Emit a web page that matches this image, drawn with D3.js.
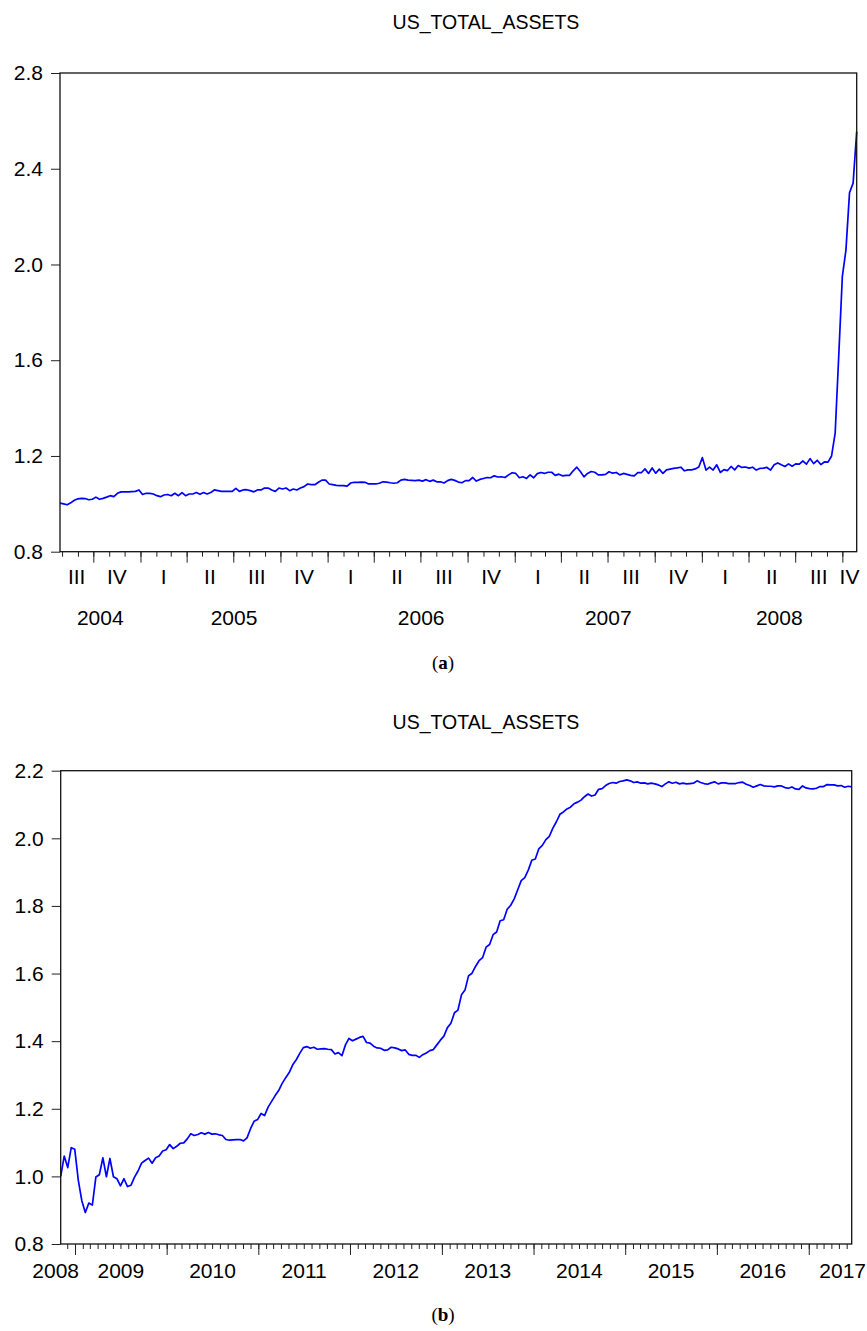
<!DOCTYPE html>
<html>
<head>
<meta charset="utf-8">
<script src="https://cdn.jsdelivr.net/npm/d3@7"></script>
<style>
body { margin: 0; background: #fff; }
svg text { font-family: "Liberation Sans", Arial, sans-serif; fill: #000; }
.caption { font-family: "Liberation Serif", "Times New Roman", serif; }
</style>
</head>
<body>
<svg id="fig" width="867" height="1331"></svg>
<script>
var seriesName = "US_TOTAL_ASSETS";
var quarterNames = ["I", "II", "III", "IV"];

// panel (a): weekly values starting 2004-07-28
var startA = "2004-07-28";
var stepA = 7;
var assetsA = [
  1.003,1.000,0.996,1.004,1.015,1.021,1.023,1.022,1.017,1.019,
  1.028,1.019,1.023,1.028,1.034,1.030,1.044,1.050,1.050,1.050,
  1.051,1.052,1.058,1.039,1.044,1.044,1.041,1.034,1.030,1.037,
  1.039,1.034,1.044,1.034,1.047,1.034,1.041,1.041,1.047,1.040,
  1.047,1.041,1.047,1.058,1.055,1.052,1.052,1.052,1.052,1.065,
  1.052,1.058,1.059,1.055,1.050,1.058,1.058,1.066,1.066,1.058,
  1.052,1.066,1.062,1.066,1.055,1.062,1.058,1.066,1.072,1.083,
  1.080,1.080,1.090,1.099,1.099,1.083,1.080,1.077,1.076,1.076,
  1.074,1.087,1.090,1.090,1.091,1.090,1.083,1.083,1.083,1.086,
  1.092,1.091,1.088,1.086,1.088,1.099,1.102,1.099,1.098,1.097,
  1.099,1.095,1.101,1.094,1.099,1.092,1.092,1.087,1.097,1.102,
  1.098,1.091,1.088,1.097,1.097,1.110,1.095,1.102,1.106,1.110,
  1.109,1.117,1.112,1.113,1.110,1.121,1.130,1.127,1.109,1.113,
  1.106,1.121,1.109,1.126,1.131,1.127,1.132,1.132,1.119,1.124,
  1.117,1.119,1.119,1.138,1.153,1.135,1.113,1.127,1.135,1.132,
  1.121,1.121,1.123,1.134,1.128,1.131,1.121,1.127,1.123,1.119,
  1.117,1.130,1.130,1.146,1.127,1.150,1.128,1.145,1.127,1.142,
  1.145,1.148,1.150,1.153,1.138,1.142,1.142,1.146,1.154,1.193,
  1.141,1.153,1.141,1.163,1.131,1.143,1.139,1.156,1.142,1.160,
  1.152,1.154,1.149,1.153,1.141,1.148,1.149,1.152,1.141,1.163,
  1.171,1.163,1.156,1.167,1.157,1.167,1.166,1.179,1.166,1.189,
  1.168,1.182,1.164,1.175,1.174,1.200,1.295,1.620,1.950,2.060,
  2.300,2.340,2.555
];
var ticksA = [0.8, 1.2, 1.6, 2.0, 2.4, 2.8];

// panel (b): every second week starting 2008-11-05
var startB = "2008-11-05";
var stepB = 14;
var assetsB = [
  1.000,1.060,1.026,1.085,1.080,0.989,0.928,0.893,0.921,0.915,
  0.998,1.005,1.055,0.999,1.053,0.999,0.993,0.972,0.993,0.970,
  0.974,0.998,1.016,1.039,1.047,1.054,1.039,1.055,1.060,1.075,
  1.079,1.094,1.082,1.089,1.098,1.099,1.111,1.126,1.121,1.124,
  1.129,1.125,1.130,1.125,1.126,1.123,1.121,1.109,1.107,1.108,
  1.109,1.109,1.105,1.114,1.141,1.163,1.168,1.186,1.180,1.205,
  1.222,1.239,1.254,1.275,1.292,1.307,1.330,1.345,1.364,1.381,
  1.384,1.379,1.382,1.376,1.377,1.378,1.376,1.375,1.362,1.366,
  1.357,1.389,1.408,1.401,1.406,1.411,1.414,1.396,1.394,1.385,
  1.380,1.379,1.373,1.374,1.382,1.380,1.377,1.372,1.374,1.361,
  1.358,1.358,1.352,1.360,1.365,1.372,1.375,1.389,1.403,1.415,
  1.440,1.453,1.484,1.492,1.537,1.551,1.593,1.601,1.621,1.638,
  1.647,1.678,1.686,1.715,1.723,1.756,1.759,1.790,1.802,1.821,
  1.848,1.875,1.884,1.906,1.935,1.939,1.969,1.979,1.996,2.006,
  2.030,2.049,2.071,2.078,2.087,2.092,2.102,2.107,2.113,2.123,
  2.131,2.125,2.128,2.145,2.147,2.156,2.162,2.165,2.163,2.168,
  2.170,2.173,2.170,2.165,2.167,2.163,2.164,2.161,2.163,2.161,
  2.158,2.153,2.161,2.167,2.163,2.166,2.161,2.163,2.161,2.162,
  2.163,2.170,2.165,2.162,2.160,2.164,2.167,2.161,2.164,2.164,
  2.162,2.162,2.162,2.165,2.166,2.160,2.156,2.151,2.155,2.159,
  2.155,2.154,2.154,2.152,2.155,2.155,2.150,2.148,2.152,2.146,
  2.145,2.155,2.149,2.147,2.146,2.148,2.153,2.153,2.159,2.158,
  2.158,2.155,2.156,2.151,2.154,2.152
];
var ticksB = [0.8, 1.0, 1.2, 1.4, 1.6, 1.8, 2.0, 2.2];

var W = 867;
var svg = d3.select("#fig");
var parseDay = d3.utcParse("%Y-%m-%d");

function toSeries(start, step, values) {
  var t0 = parseDay(start);
  return values.map(function(v, i) {
    return {date: d3.utcDay.offset(t0, i * step), value: v};
  });
}

function clip(d, lo, hi) { return d < lo ? lo : (d > hi ? hi : d); }

function drawPanel(p) {
  var data = toSeries(p.start, p.step, p.values);
  var x = d3.scaleUtc().domain(d3.extent(data, function(d) { return d.date; })).range([p.left, p.right]);
  var y = d3.scaleLinear().domain(d3.extent(p.ticks)).range([p.bottom, p.top]);
  var d0 = x.domain()[0], d1 = x.domain()[1];
  var g = svg.append("g");

  // title (sits a little right of the frame centre in the original)
  g.append("text")
    .attr("x", 486)
    .attr("y", p.titleY)
    .attr("text-anchor", "middle")
    .style("font-size", "19.5px")
    .text(seriesName);

  // y axis
  var yaxis = g.append("g")
    .attr("transform", "translate(" + p.left + ",0)")
    .call(d3.axisLeft(y).tickValues(p.ticks).tickFormat(d3.format(".1f")).tickSize(9).tickPadding(8));
  yaxis.attr("font-family", null).attr("font-size", null);
  yaxis.select(".domain").remove();
  yaxis.selectAll("text").style("font-size", "21px");
  yaxis.selectAll("line").attr("stroke", "#222");

  // x axis: monthly minor ticks, long ticks at quarter or year starts
  var months = d3.utcMonth.range(d0, d3.utcDay.offset(d1, 1));
  var majors = p.quarterly
    ? d3.utcMonth.every(3).range(d0, d3.utcDay.offset(d1, 1))
    : d3.utcYear.range(d0, d3.utcDay.offset(d1, 1));
  var minorAxis = g.append("g")
    .attr("transform", "translate(0," + p.bottom + ")")
    .call(d3.axisBottom(x).tickValues(months).tickSize(5).tickFormat(""));
  var majorAxis = g.append("g")
    .attr("transform", "translate(0," + p.bottom + ")")
    .call(d3.axisBottom(x).tickValues(majors).tickSize(11).tickFormat(""));
  minorAxis.select(".domain").remove();
  majorAxis.select(".domain").remove();
  g.selectAll(".tick line").attr("stroke", "#222");

  // line
  var valueLine = d3.line()
    .x(function(d) { return x(d.date); })
    .y(function(d) { return y(d.value); });
  g.append("path")
    .attr("d", valueLine(data))
    .attr("fill", "none")
    .attr("stroke", "#0000ff")
    .attr("stroke-width", 1.7)
    .attr("stroke-linejoin", "round");

  // frame
  g.append("rect")
    .attr("x", p.left)
    .attr("y", p.top)
    .attr("width", p.right - p.left)
    .attr("height", p.bottom - p.top)
    .attr("fill", "none")
    .attr("stroke", "#111")
    .attr("stroke-width", 1.3);

  var labels = g.append("g").style("font-size", "21px").attr("text-anchor", "middle");

  if (p.quarterly) {
    // roman quarter labels centred on the visible part of each quarter
    d3.utcMonth.every(3).range(d3.utcMonth.every(3).floor(d0), d1).forEach(function(q) {
      var lo = q < d0 ? d0 : q;
      var hi = d3.utcMonth.offset(q, 3);
      if (hi > d1) hi = d1;
      var t = labels.append("text")
        .attr("y", p.bottom + 32)
        .text(quarterNames[q.getUTCMonth() / 3]);
      var half = t.node().getComputedTextLength() / 2;
      t.attr("x", clip((x(lo) + x(hi)) / 2, p.left + half, W - half - 4));
    });
    d3.utcYear.range(d3.utcYear.floor(d0), d1).forEach(function(yr) {
      var lo = yr < d0 ? d0 : yr;
      var hi = d3.utcYear.offset(yr, 1);
      if (hi > d1) hi = d1;
      labels.append("text")
        .attr("x", (x(lo) + x(hi)) / 2)
        .attr("y", p.bottom + 73)
        .text(yr.getUTCFullYear());
    });
  } else {
    d3.utcYear.range(d3.utcYear.floor(d0), d1).forEach(function(yr) {
      var mid = (x(yr) + x(d3.utcYear.offset(yr, 1))) / 2;
      var t = labels.append("text")
        .attr("y", p.bottom + 34)
        .text(yr.getUTCFullYear());
      var half = t.node().getComputedTextLength() / 2;
      t.attr("x", clip(mid, p.left - 5, W - half - 1));
    });
  }

  // caption "(a)" / "(b)"
  var cap = g.append("text")
    .attr("class", "caption")
    .attr("x", 443)
    .attr("y", p.captionY)
    .attr("text-anchor", "middle")
    .style("font-size", "19px");
  cap.append("tspan").text("(");
  cap.append("tspan").style("font-weight", "bold").text(p.caption);
  cap.append("tspan").text(")");
}

drawPanel({
  start: startA, step: stepA, values: assetsA, ticks: ticksA, quarterly: true,
  left: 60, right: 856.7, top: 73, bottom: 551.7,
  titleY: 29, captionY: 669, caption: "a"
});

drawPanel({
  start: startB, step: stepB, values: assetsB, ticks: ticksB, quarterly: false,
  left: 60.7, right: 851.7, top: 770.7, bottom: 1244,
  titleY: 729, captionY: 1321, caption: "b"
});
</script>
</body>
</html>
